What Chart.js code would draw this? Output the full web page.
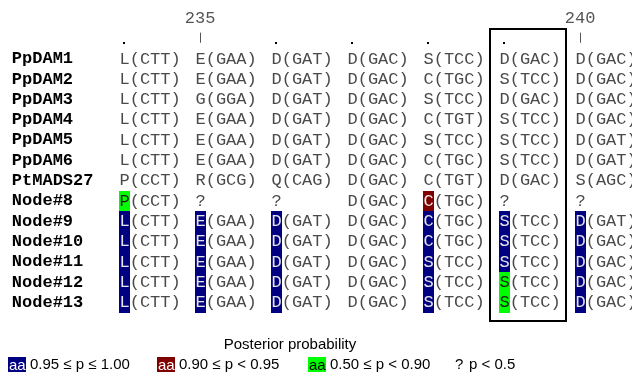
<!DOCTYPE html>
<html>
<head>
<meta charset="utf-8">
<script src="https://cdn.jsdelivr.net/npm/chart.js@4.4.0/dist/chart.umd.min.js"></script>
<style>
  html, body { margin: 0; padding: 0; background: #fff; }
</style>
</head>
<body>
<canvas id="alignChart" width="632" height="377"></canvas>
<script>
// Sequence names (rows) and alignment sites (columns)
const rowNames = ['PpDAM1', 'PpDAM2', 'PpDAM3', 'PpDAM4', 'PpDAM5', 'PpDAM6', 'PtMADS27',
                  'Node#8', 'Node#9', 'Node#10', 'Node#11', 'Node#12', 'Node#13'];
const sitePositions = [234, 235, 236, 237, 238, 239, 240];
const boxedSite = 239;

// amino acid (codon) per row / site, '?' = not resolved
const residues = [
  ['L(CTT)', 'E(GAA)', 'D(GAT)', 'D(GAC)', 'S(TCC)', 'D(GAC)', 'D(GAC)'],
  ['L(CTT)', 'E(GAA)', 'D(GAT)', 'D(GAC)', 'C(TGC)', 'S(TCC)', 'D(GAC)'],
  ['L(CTT)', 'G(GGA)', 'D(GAT)', 'D(GAC)', 'S(TCC)', 'D(GAC)', 'D(GAC)'],
  ['L(CTT)', 'E(GAA)', 'D(GAT)', 'D(GAC)', 'C(TGT)', 'S(TCC)', 'D(GAC)'],
  ['L(CTT)', 'E(GAA)', 'D(GAT)', 'D(GAC)', 'S(TCC)', 'S(TCC)', 'D(GAT)'],
  ['L(CTT)', 'E(GAA)', 'D(GAT)', 'D(GAC)', 'C(TGC)', 'S(TCC)', 'D(GAT)'],
  ['P(CCT)', 'R(GCG)', 'Q(CAG)', 'D(GAC)', 'C(TGT)', 'D(GAC)', 'S(AGC)'],
  ['P(CCT)', '?',      '?',      'D(GAC)', 'C(TGC)', '?',      '?'],
  ['L(CTT)', 'E(GAA)', 'D(GAT)', 'D(GAC)', 'C(TGC)', 'S(TCC)', 'D(GAT)'],
  ['L(CTT)', 'E(GAA)', 'D(GAT)', 'D(GAC)', 'C(TGC)', 'S(TCC)', 'D(GAC)'],
  ['L(CTT)', 'E(GAA)', 'D(GAT)', 'D(GAC)', 'S(TCC)', 'S(TCC)', 'D(GAC)'],
  ['L(CTT)', 'E(GAA)', 'D(GAT)', 'D(GAC)', 'S(TCC)', 'S(TCC)', 'D(GAC)'],
  ['L(CTT)', 'E(GAA)', 'D(GAT)', 'D(GAC)', 'S(TCC)', 'S(TCC)', 'D(GAC)']
];

// posterior class per cell: b = 0.95-1.00, r = 0.90-0.95, g = 0.50-0.90, ? = p<0.5, . = observed
const posterior = [
  '.......', '.......', '.......', '.......', '.......', '.......', '.......',
  'g??.r??',
  'bbb.bbb', 'bbb.bbb', 'bbb.bbb', 'bbb.bgb', 'bbb.bgb'
];

const legendClasses = ['b', 'r', 'g', '?'];
const legendLabels = ['0.95 ≤ p ≤ 1.00', '0.90 ≤ p < 0.95', '0.50 ≤ p < 0.90', 'p < 0.5'];

const classColours = {
  b: { bg: '#000080', fg: '#e6e6e6' },
  r: { bg: '#800000', fg: '#eeeeee' },
  g: { bg: '#00ff00', fg: '#1a1a1a' }
};

const MONO = '"Liberation Mono", "Courier New", monospace';
const SANS = '"Liberation Sans", Arial, sans-serif';

// one point per cell
const cells = [];
residues.forEach((row, r) => {
  row.forEach((txt, c) => {
    cells.push({ x: c, y: r, text: txt, pp: posterior[r][c] });
  });
});

const alignPlugin = {
  id: 'alignText',
  afterDatasetsDraw(chart) {
    const { ctx, scales: { x, y } } = chart;
    ctx.save();
    ctx.font = '17px ' + MONO;
    const cw = ctx.measureText('M').width;
    const rowH = Math.abs(y.getPixelForValue(1) - y.getPixelForValue(0));

    // position ruler
    sitePositions.forEach((pos, c) => {
      const cx = x.getPixelForValue(c) + cw / 2;
      if (pos % 5 === 0) {
        ctx.fillStyle = '#555';
        ctx.font = '17px ' + MONO;
        ctx.textAlign = 'center';
        ctx.textBaseline = 'middle';
        ctx.fillText(String(pos), cx, y.getPixelForValue(-2));
        ctx.strokeStyle = '#555';
        ctx.lineWidth = 1;
        ctx.beginPath();
        ctx.moveTo(Math.round(cx) + 0.5, y.getPixelForValue(-1.3));
        ctx.lineTo(Math.round(cx) + 0.5, y.getPixelForValue(-0.8));
        ctx.stroke();
      } else {
        ctx.fillStyle = '#000';
        ctx.fillRect(Math.round(cx) - 1, Math.round(y.getPixelForValue(-0.85)), 2, 2);
      }
    });

    // row names
    ctx.font = 'bold 17px ' + MONO;
    ctx.fillStyle = '#000';
    ctx.textAlign = 'left';
    ctx.textBaseline = 'middle';
    rowNames.forEach((name, r) => {
      ctx.fillText(name, x.getPixelForValue(-1.41), y.getPixelForValue(r));
    });

    // cells
    ctx.font = '17px ' + MONO;
    chart.data.datasets[0].data.forEach(cell => {
      const px = x.getPixelForValue(cell.x);
      const py = y.getPixelForValue(cell.y);
      const col = classColours[cell.pp];
      if (col) {
        ctx.fillStyle = col.bg;
        ctx.fillRect(Math.round(px), Math.round(py - rowH / 2), Math.round(cw + 1), Math.ceil(rowH));
      }
      ctx.textAlign = 'left';
      ctx.textBaseline = 'middle';
      ctx.fillStyle = col ? col.fg : '#4a4a4a';
      ctx.fillText(cell.text[0], px + 0.5, py);
      ctx.fillStyle = '#4a4a4a';
      ctx.fillText(cell.text.slice(1), px + 0.5 + cw, py);
    });

    // box round the site of interest
    const bc = sitePositions.indexOf(boxedSite);
    const bx0 = x.getPixelForValue(bc - 0.12);
    const bx1 = x.getPixelForValue(bc + 0.88);
    const by0 = y.getPixelForValue(-1.5);
    const by1 = y.getPixelForValue(rowNames.length - 1 + 0.86);
    ctx.strokeStyle = '#000';
    ctx.lineWidth = 2;
    ctx.strokeRect(Math.round(bx0), Math.round(by0), Math.round(bx1 - bx0), Math.round(by1 - by0));

    // legend
    const lx = [8, 157, 308, 455];
    const ly = y.getPixelForValue(15.07);
    ctx.font = '15px ' + SANS;
    ctx.textBaseline = 'middle';
    ctx.fillStyle = '#000';
    ctx.textAlign = 'center';
    ctx.fillText('Posterior probability', 290, y.getPixelForValue(14.09));
    ctx.textAlign = 'left';
    legendClasses.forEach((k, i) => {
      const col = classColours[k];
      let tx = lx[i];
      if (col) {
        ctx.fillStyle = col.bg;
        ctx.fillRect(tx, Math.round(ly - 7.5), 18, 15);
        ctx.fillStyle = k === 'g' ? '#000' : '#fff';
        ctx.fillText('aa', tx + 1, ly + 0.5);
        tx += 22;
      } else {
        ctx.fillStyle = '#000';
        ctx.fillText('?', tx, ly);
        tx += 14;
      }
      ctx.fillStyle = '#000';
      ctx.fillText(legendLabels[i], tx, ly);
    });
    ctx.restore();
  }
};

new Chart(document.getElementById('alignChart'), {
  type: 'scatter',
  data: {
    datasets: [{
      label: 'alignment',
      data: cells,
      pointRadius: 0,
      pointHoverRadius: 0
    }]
  },
  options: {
    responsive: false,
    animation: false,
    devicePixelRatio: 1,
    layout: { padding: 0 },
    scales: {
      x: { type: 'linear', display: false, min: -119 / 76, max: (632 - 119) / 76 },
      y: { type: 'linear', display: false, reverse: true, min: -59 / 20.3, max: (377 - 59) / 20.3 }
    },
    plugins: {
      legend: { display: false },
      tooltip: { enabled: false }
    }
  },
  plugins: [alignPlugin]
});
</script>
</body>
</html>
